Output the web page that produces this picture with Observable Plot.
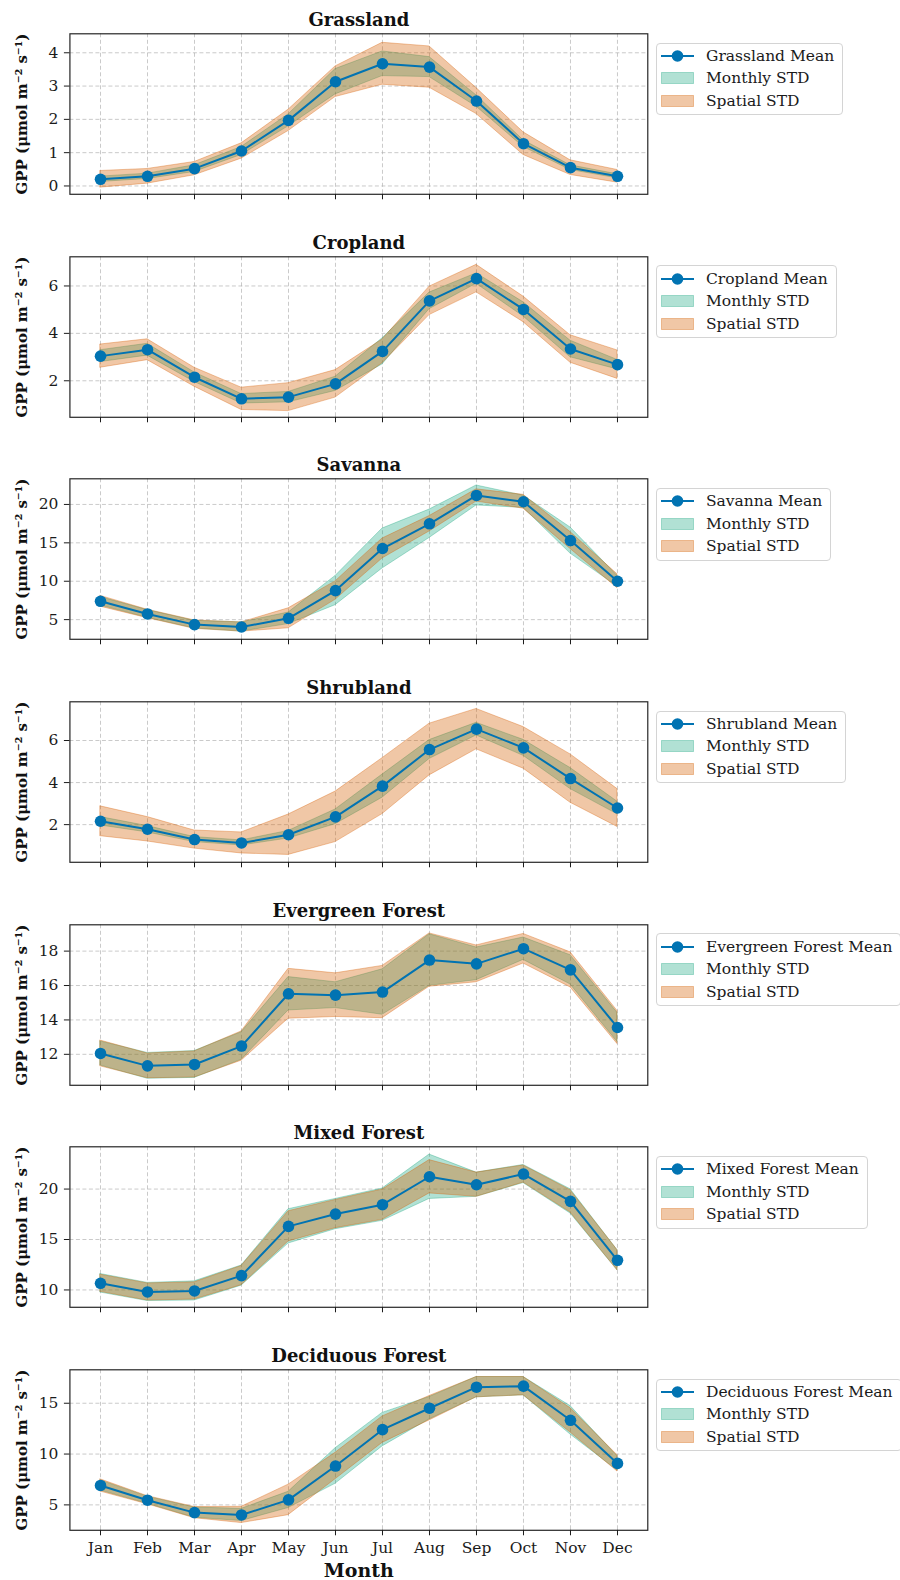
<!DOCTYPE html>
<html>
<head>
<meta charset="utf-8">
<script src="https://cdn.jsdelivr.net/npm/d3@7"></script>
<script src="https://cdn.jsdelivr.net/npm/@observablehq/plot@0.6"></script>
<style>
  body { margin: 0; background: #fff; font-family: "DejaVu Serif", serif; }
  #wrap { position: relative; width: 900px; height: 1580px; overflow: hidden; }
  .panel { position: absolute; left: 0; }
  .panel svg { overflow: visible; }
  .legend { position: absolute; left: 656px; border: 1px solid #d4d4d4; border-radius: 4px; background: #fff;
            padding: 1px 8px 2px 4px; font-size: 15.5px; color: #1a1a1a; }
  .row { display: flex; align-items: center; height: 22.5px; white-space: nowrap; }
  .row svg { margin-right: 12px; flex: none; }
</style>
</head>
<body>
<div id="wrap"></div>
<script>
// ---------------- data ----------------
const months = ["Jan","Feb","Mar","Apr","May","Jun","Jul","Aug","Sep","Oct","Nov","Dec"];
const titles = ["Grassland","Cropland","Savanna","Shrubland","Evergreen Forest","Mixed Forest","Deciduous Forest"];

const grasslandMean    = [0.20, 0.29, 0.52, 1.05, 1.97, 3.13, 3.67, 3.57, 2.55, 1.27, 0.55, 0.29];
const grasslandMonthly = [0.08, 0.08, 0.10, 0.12, 0.18, 0.38, 0.37, 0.30, 0.17, 0.10, 0.07, 0.06];
const grasslandSpatial = [0.25, 0.22, 0.20, 0.23, 0.32, 0.46, 0.63, 0.62, 0.39, 0.34, 0.22, 0.19];

const croplandMean    = [3.04, 3.31, 2.15, 1.24, 1.31, 1.87, 3.24, 5.37, 6.31, 5.01, 3.34, 2.68];
const croplandMonthly = [0.25, 0.25, 0.20, 0.20, 0.22, 0.30, 0.55, 0.35, 0.22, 0.30, 0.35, 0.20];
const croplandSpatial = [0.49, 0.44, 0.40, 0.47, 0.59, 0.58, 0.50, 0.60, 0.58, 0.54, 0.58, 0.60];

const savannaMean    = [7.39, 5.74, 4.35, 4.04, 5.17, 8.78, 14.26, 17.48, 21.17, 20.35, 15.30, 10.00];
const savannaMonthly = [0.55, 0.50, 0.50, 0.60, 0.75, 1.90, 2.60, 1.85, 1.30, 0.80, 1.70, 0.70];
const savannaSpatial = [0.70, 0.55, 0.55, 0.60, 1.30, 1.20, 1.30, 1.00, 0.80, 0.90, 1.10, 0.90];

const shrublandMean    = [2.16, 1.78, 1.29, 1.13, 1.52, 2.37, 3.83, 5.57, 6.54, 5.65, 4.19, 2.79];
const shrublandMonthly = [0.20, 0.15, 0.12, 0.12, 0.18, 0.35, 0.55, 0.45, 0.30, 0.38, 0.50, 0.30];
const shrublandSpatial = [0.71, 0.58, 0.43, 0.50, 0.96, 1.20, 1.33, 1.23, 0.96, 0.99, 1.15, 0.90];

const evergreenMean    = [12.05, 11.33, 11.41, 12.48, 15.52, 15.44, 15.62, 17.48, 17.26, 18.14, 16.91, 13.56];
const evergreenMonthly = [0.70, 0.75, 0.78, 0.80, 0.97, 0.75, 1.32, 1.50, 0.95, 0.65, 0.85, 0.85];
const evergreenSpatial = [0.75, 0.72, 0.76, 0.85, 1.45, 1.27, 1.52, 1.55, 1.07, 0.86, 1.02, 0.96];

const mixedMean    = [10.66, 9.80, 9.90, 11.42, 16.30, 17.52, 18.45, 21.22, 20.43, 21.49, 18.78, 12.94];
const mixedMonthly = [0.92, 0.90, 0.95, 1.00, 1.70, 1.50, 1.60, 2.20, 1.20, 0.90, 1.20, 1.00];
const mixedSpatial = [0.85, 0.85, 0.85, 0.95, 1.50, 1.40, 1.50, 1.65, 1.20, 0.85, 1.10, 1.00];

const deciduousMean    = [6.91, 5.46, 4.24, 4.01, 5.49, 8.82, 12.40, 14.51, 16.58, 16.68, 13.32, 9.08];
const deciduousMonthly = [0.50, 0.35, 0.50, 0.60, 0.80, 1.75, 1.65, 1.10, 1.00, 0.90, 1.40, 0.70];
const deciduousSpatial = [0.60, 0.40, 0.55, 0.80, 1.50, 1.30, 1.30, 1.20, 1.00, 0.90, 1.20, 0.80];

const yTicks = [[0,1,2,3,4],[2,4,6],[5,10,15,20],[2,4,6],[12,14,16,18],[10,15,20],[5,10,15]];
const yDomains = [[-0.25,4.57],[0.46,7.23],[2.44,23.34],[0.21,7.84],[10.2,19.53],[8.28,24.19],[2.5,18.29]];

const yLabel = "GPP (μmol m⁻² s⁻¹)";
const xLabel = "Month";
const legendLabels = ["Monthly STD", "Spatial STD"];

const series = [
  [grasslandMean, grasslandMonthly, grasslandSpatial],
  [croplandMean, croplandMonthly, croplandSpatial],
  [savannaMean, savannaMonthly, savannaSpatial],
  [shrublandMean, shrublandMonthly, shrublandSpatial],
  [evergreenMean, evergreenMonthly, evergreenSpatial],
  [mixedMean, mixedMonthly, mixedSpatial],
  [deciduousMean, deciduousMonthly, deciduousSpatial]
];

// ---------------- style ----------------
const BLUE = "#0173b2", GREEN = "#029e73", ORANGE = "#d55e00";
const GREEN_A = 0.31, ORANGE_A = 0.35;
const STEP = 222.67, FRAME_TOP = 33.3, FRAME_H = 160.5;
const W = 660, ML = 69.4, MR = 12.7;
const GRID = {stroke: "#b0b0b0", strokeOpacity: 0.75, strokeDasharray: "4,2.5", strokeWidth: 0.9};

const wrap = document.getElementById("wrap");

series.forEach(([mean, monthly, spatial], i) => {
  const data = months.map((m, j) => ({
    month: m,
    mean: mean[j],
    mLo: mean[j] - monthly[j], mHi: mean[j] + monthly[j],
    sLo: mean[j] - spatial[j], sHi: mean[j] + spatial[j]
  }));
  const last = i === series.length - 1;
  const top = i * STEP;
  const mb = last ? 1580 - (top + FRAME_TOP + FRAME_H) : STEP - FRAME_TOP - FRAME_H;

  const marks = [
    Plot.gridX(months, {...GRID}),
    Plot.gridY(yTicks[i], {...GRID}),
    Plot.areaY(data, {x: "month", y1: "mLo", y2: "mHi", fill: GREEN, fillOpacity: GREEN_A,
                      stroke: GREEN, strokeOpacity: GREEN_A, strokeWidth: 1, curve: "linear"}),
    Plot.areaY(data, {x: "month", y1: "sLo", y2: "sHi", fill: ORANGE, fillOpacity: ORANGE_A,
                      stroke: ORANGE, strokeOpacity: ORANGE_A, strokeWidth: 1, curve: "linear"}),
    Plot.lineY(data, {x: "month", y: "mean", stroke: BLUE, strokeWidth: 2}),
    Plot.dot(data, {x: "month", y: "mean", fill: BLUE, r: 5.8}),
    Plot.frame({stroke: "#262626", strokeWidth: 1.2}),
    Plot.axisY(yTicks[i], {tickSize: 5.5, tickPadding: 6, fontSize: 15.5, label: null}),
    Plot.axisX(months, {tickSize: 5.5, tickPadding: 6.5, fontSize: 15.5, label: null,
                        tickFormat: last ? (d) => d : () => ""}),
    Plot.text([titles[i]], {frameAnchor: "top", dy: -7.3, textAnchor: "middle", lineAnchor: "bottom",
                            fontSize: 18, fontWeight: "bold", fill: "#111"}),
    Plot.text([yLabel], {frameAnchor: "left", dx: -48, rotate: -90, textAnchor: "middle", lineAnchor: "middle",
                         fontSize: 15, fontWeight: "bold", fill: "#111"})
  ];
  if (last) {
    marks.push(Plot.text([xLabel], {frameAnchor: "bottom", dy: 47, textAnchor: "middle", lineAnchor: "bottom",
                                    fontSize: 19, fontWeight: "bold", fill: "#111"}));
  }

  const chart = Plot.plot({
    width: W, height: FRAME_TOP + FRAME_H + mb,
    marginLeft: ML, marginRight: MR, marginTop: FRAME_TOP, marginBottom: mb,
    style: {fontFamily: "DejaVu Serif", fontSize: "15.5px", color: "#1a1a1a", background: "transparent", overflow: "visible"},
    x: {type: "point", domain: months, padding: 0.55, label: null},
    y: {domain: yDomains[i], label: null},
    marks
  });

  const div = document.createElement("div");
  div.className = "panel";
  div.style.top = top + "px";
  div.appendChild(chart);
  wrap.appendChild(div);

  // legend
  const lg = document.createElement("div");
  lg.className = "legend";
  lg.style.top = (top + FRAME_TOP + 9.4) + "px";
  const rows = [
    {label: titles[i] + " Mean", kind: "line"},
    {label: legendLabels[0], kind: "green"},
    {label: legendLabels[1], kind: "orange"}
  ];
  rows.forEach(r => {
    const row = document.createElement("div");
    row.className = "row";
    let sw;
    if (r.kind === "line") {
      sw = `<svg width="33" height="14"><line x1="0" x2="33" y1="7" y2="7" stroke="${BLUE}" stroke-width="2"/><circle cx="16.5" cy="7" r="5.8" fill="${BLUE}"/></svg>`;
    } else {
      const c = r.kind === "green" ? GREEN : ORANGE;
      const a = r.kind === "green" ? GREEN_A : ORANGE_A;
      sw = `<svg width="33" height="14"><rect x="0.5" y="1.5" width="32" height="11" fill="${c}" fill-opacity="${a}" stroke="${c}" stroke-opacity="${a}" stroke-width="1"/></svg>`;
    }
    row.innerHTML = sw + `<span>${r.label}</span>`;
    lg.appendChild(row);
  });
  wrap.appendChild(lg);
});
</script>
</body>
</html>
